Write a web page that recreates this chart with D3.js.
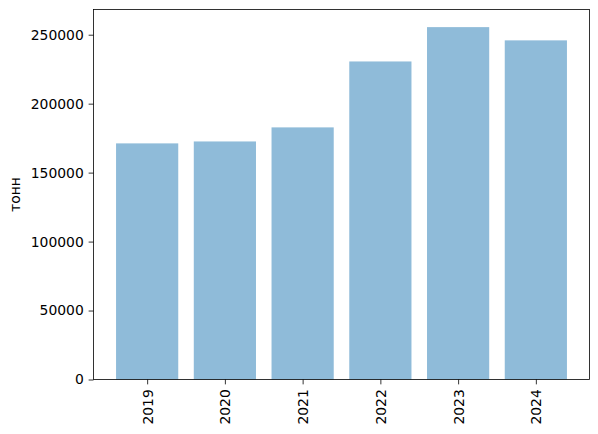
<!DOCTYPE html>
<html>
<head>
<meta charset="utf-8">
<script src="https://cdn.jsdelivr.net/npm/d3@7"></script>
<style>
  body { margin: 0; background: #fff; }
  svg { display: block; }
  text { font-family: "DejaVu Sans", sans-serif; }
</style>
</head>
<body>
<svg id="chart" width="598" height="434"></svg>
<script>
const categories = ["2019", "2020", "2021", "2022", "2023", "2024"];
const values = [171200, 172600, 182800, 230600, 255500, 245900];
const yTicks = [0, 50000, 100000, 150000, 200000, 250000];
const yLabel = "тонн";

(function () {
const svg = d3.select("#chart");
const mLeft = 93.5, mRight = 589.5, mTop = 9.5, mBottom = 379.5;
const fontSize = 13.9;
const tickLen = 4.86, pad = 4.86;

const n = categories.length;
const barW = 0.8;
const x = d3.scaleLinear()
  .domain([-barW / 2 - 0.05 * (n - 1 + barW), n - 1 + barW / 2 + 0.05 * (n - 1 + barW)])
  .range([mLeft, mRight]);
const yMax = d3.max(values) * 1.05;
const y = d3.scaleLinear().domain([0, yMax]).range([mBottom, mTop]);

svg.append("g").selectAll("rect")
  .data(values)
  .join("rect")
  .attr("x", (d, i) => x(i - barW / 2))
  .attr("width", (d, i) => x(i + barW / 2) - x(i - barW / 2))
  .attr("y", d => y(d))
  .attr("height", d => y(0) - y(d))
  .attr("fill", "#1f77b4")
  .attr("fill-opacity", 0.5);

// Y axis
const yAxis = d3.axisLeft(y).tickValues(yTicks).tickFormat(d3.format("d"))
  .tickSize(tickLen).tickPadding(pad);
const gy = svg.append("g").attr("transform", `translate(${mLeft},0)`).call(yAxis);
gy.select(".domain").remove();
gy.selectAll(".tick line").attr("stroke", "#000").attr("stroke-width", 0.8);
gy.selectAll(".tick text").attr("fill", "#000").style("font-size", fontSize + "px")
  .style("font-family", "DejaVu Sans");

// X axis
const xAxis = d3.axisBottom(x).tickValues(d3.range(n)).tickFormat(i => categories[i])
  .tickSize(tickLen).tickPadding(pad);
const gx = svg.append("g").attr("transform", `translate(0,${mBottom})`).call(xAxis);
gx.select(".domain").remove();
gx.selectAll(".tick line").attr("stroke", "#000").attr("stroke-width", 0.8);
gx.selectAll(".tick text")
  .attr("fill", "#000")
  .style("font-size", fontSize + "px")
  .style("font-family", "DejaVu Sans")
  .attr("x", 0).attr("y", 0).attr("dy", null)
  .attr("text-anchor", "end")
  .attr("dominant-baseline", "central")
  .attr("transform", `translate(0,${tickLen + pad}) rotate(-90)`);

// frame
svg.append("rect")
  .attr("x", mLeft).attr("y", mTop)
  .attr("width", mRight - mLeft).attr("height", mBottom - mTop)
  .attr("fill", "none").attr("stroke", "#000").attr("stroke-width", 0.8);

// y label
svg.append("text")
  .attr("transform", `translate(15,${(mTop + mBottom) / 2}) rotate(-90)`)
  .attr("text-anchor", "middle")
  .attr("dominant-baseline", "central")
  .style("font-size", fontSize + "px")
  .attr("fill", "#000")
  .text(yLabel);
})();
</script>
</body>
</html>
